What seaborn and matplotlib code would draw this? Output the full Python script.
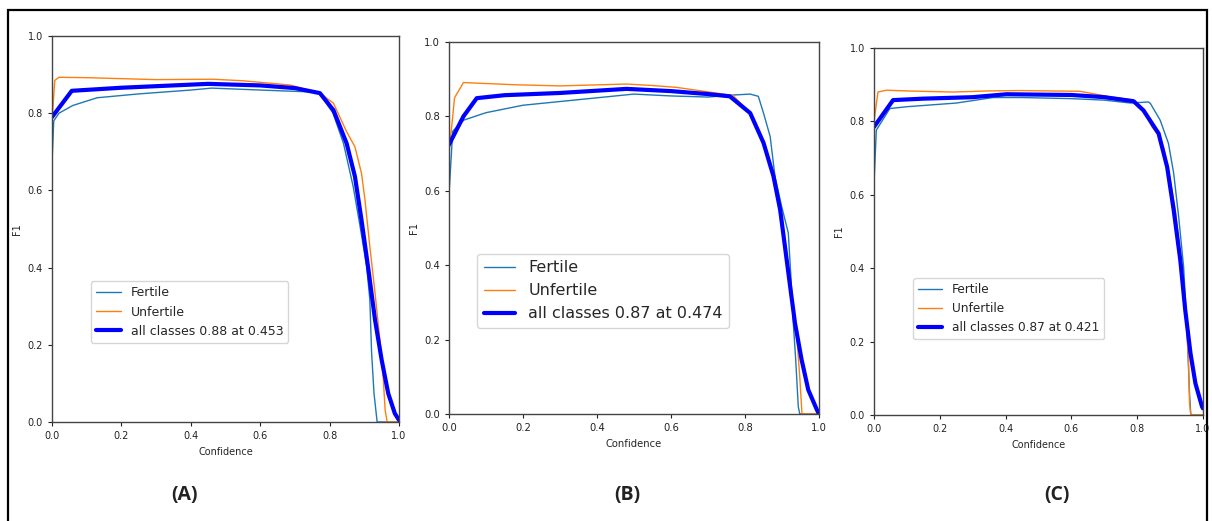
import matplotlib
matplotlib.use("Agg")
import matplotlib.pyplot as plt
import matplotlib.patches as patches
import seaborn as sns
import pandas as pd

# ---- panel (A) ----
conf_fert_a = [0.0, 0.005, 0.02, 0.06, 0.13, 0.25, 0.4, 0.46, 0.6, 0.75, 0.77, 0.81, 0.84, 0.868,
               0.888, 0.907, 0.916, 0.921, 0.928, 0.937, 1.0]
f1_fert_a = [0.67, 0.78, 0.80, 0.82, 0.84, 0.85, 0.86, 0.865, 0.86, 0.855, 0.853, 0.80, 0.722, 0.61,
             0.506, 0.402, 0.316, 0.18, 0.074, 0.0, 0.0]
conf_unf_a = [0.0, 0.008, 0.02, 0.1, 0.3, 0.464, 0.55, 0.686, 0.772, 0.811, 0.849, 0.873, 0.892,
              0.902, 0.916, 0.931, 0.945, 0.955, 0.960, 0.966, 1.0]
f1_unf_a = [0.78, 0.885, 0.893, 0.892, 0.887, 0.888, 0.884, 0.873, 0.852, 0.826, 0.752, 0.713, 0.644,
            0.575, 0.454, 0.333, 0.212, 0.109, 0.031, 0.0, 0.0]
conf_all_a = [0.0, 0.057, 0.2, 0.45, 0.6, 0.7, 0.772, 0.811, 0.849, 0.873, 0.892, 0.912, 0.931,
              0.950, 0.969, 0.988, 1.0]
f1_all_a = [0.79, 0.858, 0.866, 0.876, 0.872, 0.865, 0.852, 0.808, 0.722, 0.636, 0.523, 0.394, 0.264,
            0.161, 0.074, 0.022, 0.005]

# ---- panel (B) ----
conf_fert_b = [0.0, 0.01, 0.04, 0.1, 0.2, 0.3, 0.4, 0.5, 0.6, 0.7, 0.76, 0.814, 0.836, 0.85, 0.868,
               0.881, 0.899, 0.917, 0.924, 0.93, 0.937, 0.944, 0.948, 1.0]
f1_fert_b = [0.59, 0.76, 0.79, 0.81, 0.83, 0.84, 0.85, 0.86, 0.855, 0.852, 0.857, 0.86, 0.854, 0.809,
             0.746, 0.639, 0.558, 0.487, 0.37, 0.253, 0.146, 0.02, 0.0, 0.0]
conf_unf_b = [0.0, 0.015, 0.039, 0.18, 0.3, 0.48, 0.55, 0.615, 0.7, 0.768, 0.814, 0.85, 0.877, 0.895,
              0.908, 0.922, 0.94, 0.948, 0.954, 1.0]
f1_unf_b = [0.70, 0.85, 0.891, 0.885, 0.882, 0.887, 0.883, 0.878, 0.866, 0.856, 0.809, 0.729, 0.639,
            0.549, 0.45, 0.343, 0.21, 0.10, 0.0, 0.0]
conf_all_b = [0.0, 0.039, 0.075, 0.15, 0.3, 0.48, 0.6, 0.7, 0.759, 0.814, 0.85, 0.877, 0.895, 0.908,
              0.922, 0.935, 0.953, 0.971, 0.994, 1.0]
f1_all_b = [0.724, 0.80, 0.849, 0.857, 0.863, 0.874, 0.868, 0.86, 0.854, 0.809, 0.729, 0.639, 0.549,
            0.45, 0.343, 0.245, 0.146, 0.065, 0.012, 0.0]

# ---- panel (C) ----
conf_fert_c = [0.0, 0.007, 0.048, 0.1, 0.25, 0.362, 0.45, 0.6, 0.7, 0.78, 0.834, 0.84, 0.87, 0.895,
               0.911, 0.926, 0.941, 0.951, 0.959, 0.963, 1.0]
f1_fert_c = [0.63, 0.776, 0.835, 0.84, 0.85, 0.865, 0.865, 0.862, 0.858, 0.85, 0.853, 0.849, 0.803,
             0.74, 0.658, 0.54, 0.404, 0.24, 0.059, 0.0, 0.0]
conf_unf_c = [0.0, 0.012, 0.038, 0.1, 0.24, 0.35, 0.444, 0.626, 0.717, 0.784, 0.819, 0.845, 0.865,
              0.88, 0.895, 0.916, 0.936, 0.949, 0.956, 0.959, 0.963, 1.0]
f1_unf_c = [0.80, 0.88, 0.885, 0.883, 0.88, 0.883, 0.884, 0.882, 0.867, 0.859, 0.83, 0.785, 0.762,
            0.73, 0.667, 0.558, 0.395, 0.259, 0.15, 0.032, 0.0, 0.0]
conf_all_c = [0.0, 0.058, 0.15, 0.3, 0.403, 0.6, 0.7, 0.789, 0.819, 0.865, 0.891, 0.911, 0.931,
              0.946, 0.962, 0.977, 0.997, 1.0]
f1_all_c = [0.785, 0.858, 0.862, 0.866, 0.874, 0.872, 0.866, 0.855, 0.83, 0.767, 0.676, 0.558, 0.422,
            0.286, 0.168, 0.086, 0.023, 0.018]

all_labels = ["all classes 0.88 at 0.453", "all classes 0.87 at 0.474", "all classes 0.87 at 0.421"]
panel_names = ["(A)", "(B)", "(C)"]

sns.set_theme(style="ticks", rc={"axes.edgecolor": "#444444", "xtick.color": "#222222",
                                 "ytick.color": "#222222"})

fig = plt.figure(figsize=(12.12, 5.21), dpi=100)
W, H = 1212, 521

# axes boxes in pixels: left, right, top, bottom
boxes = [(52, 399, 36, 422), (449, 819, 42, 414), (874, 1203, 48, 415)]
legend_anchor = [(0.112, 0.205), (0.076, 0.232), (0.119, 0.207)]
legend_size = [9, 11.5, 8.7]
tick_size = [7, 7.2, 6.9]
label_x = [185, 627, 1057]

panels = [
    (conf_fert_a, f1_fert_a, conf_unf_a, f1_unf_a, conf_all_a, f1_all_a),
    (conf_fert_b, f1_fert_b, conf_unf_b, f1_unf_b, conf_all_b, f1_all_b),
    (conf_fert_c, f1_fert_c, conf_unf_c, f1_unf_c, conf_all_c, f1_all_c),
]

for i, (cf, ff, cu, fu, ca, fa) in enumerate(panels):
    l, r, t, b = boxes[i]
    ax = fig.add_axes([l / W, (H - b) / H, (r - l) / W, (b - t) / H])
    df_f = pd.DataFrame({"Confidence": cf, "F1": ff})
    df_u = pd.DataFrame({"Confidence": cu, "F1": fu})
    df_a = pd.DataFrame({"Confidence": ca, "F1": fa})
    sns.lineplot(data=df_f, x="Confidence", y="F1", ax=ax, color="tab:blue", lw=1,
                 label="Fertile", estimator=None, sort=False)
    sns.lineplot(data=df_u, x="Confidence", y="F1", ax=ax, color="tab:orange", lw=1,
                 label="Unfertile", estimator=None, sort=False)
    sns.lineplot(data=df_a, x="Confidence", y="F1", ax=ax, color="blue", lw=3,
                 label=all_labels[i], estimator=None, sort=False)
    ax.set_xlim(0, 1)
    ax.set_ylim(0, 1)
    ax.set_xticks([0, 0.2, 0.4, 0.6, 0.8, 1.0])
    ax.set_yticks([0, 0.2, 0.4, 0.6, 0.8, 1.0])
    ax.tick_params(labelsize=tick_size[i], length=3, width=0.8)
    ax.set_xlabel("Confidence", fontsize=tick_size[i])
    ax.set_ylabel("F1", fontsize=tick_size[i])
    for s in ax.spines.values():
        s.set_linewidth(1.0)
    ax.legend(loc="lower left", bbox_to_anchor=legend_anchor[i], borderaxespad=0,
              fontsize=legend_size[i], frameon=True, framealpha=0.8, edgecolor="0.8")
    fig.text(label_x[i] / W, (H - 495) / H, panel_names[i], ha="center", va="center",
             fontsize=14, fontweight="bold", color="#222222",
             family=["Open Sans", "DejaVu Sans"])

# outer frame around the whole figure
fig.add_artist(patches.Rectangle((8 / W, -0.02), (1207 - 8) / W, (H - 10) / H + 0.02,
                                 transform=fig.transFigure, fill=False, lw=1.6, ec="black"))

fig.savefig("out.png", dpi=100)
